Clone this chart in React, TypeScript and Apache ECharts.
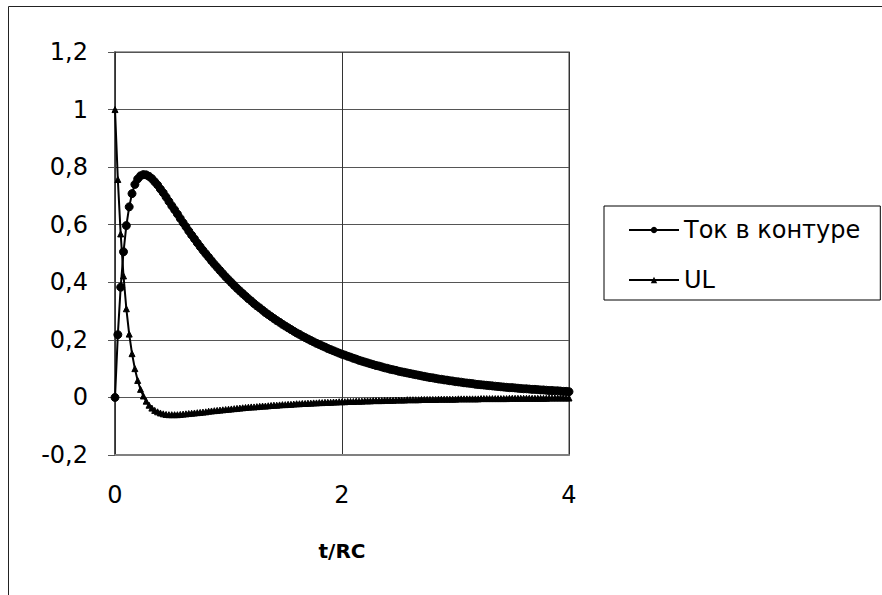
import React, { useEffect, useRef } from "react";
import * as echarts from "echarts";

// t/RC values (x)
const T_VALUES = [
  0, 0.025, 0.05, 0.075, 0.1, 0.125, 0.15, 0.175, 0.2, 0.225, 0.25, 0.275, 0.3, 0.325, 0.35, 0.375, 0.4, 0.425, 0.45, 0.475,
  0.5, 0.525, 0.55, 0.575, 0.6, 0.625, 0.65, 0.675, 0.7, 0.725, 0.75, 0.775, 0.8, 0.825, 0.85, 0.875, 0.9, 0.925, 0.95, 0.975,
  1, 1.025, 1.05, 1.075, 1.1, 1.125, 1.15, 1.175, 1.2, 1.225, 1.25, 1.275, 1.3, 1.325, 1.35, 1.375, 1.4, 1.425, 1.45, 1.475,
  1.5, 1.525, 1.55, 1.575, 1.6, 1.625, 1.65, 1.675, 1.7, 1.725, 1.75, 1.775, 1.8, 1.825, 1.85, 1.875, 1.9, 1.925, 1.95, 1.975,
  2, 2.025, 2.05, 2.075, 2.1, 2.125, 2.15, 2.175, 2.2, 2.225, 2.25, 2.275, 2.3, 2.325, 2.35, 2.375, 2.4, 2.425, 2.45, 2.475,
  2.5, 2.525, 2.55, 2.575, 2.6, 2.625, 2.65, 2.675, 2.7, 2.725, 2.75, 2.775, 2.8, 2.825, 2.85, 2.875, 2.9, 2.925, 2.95, 2.975,
  3, 3.025, 3.05, 3.075, 3.1, 3.125, 3.15, 3.175, 3.2, 3.225, 3.25, 3.275, 3.3, 3.325, 3.35, 3.375, 3.4, 3.425, 3.45, 3.475,
  3.5, 3.525, 3.55, 3.575, 3.6, 3.625, 3.65, 3.675, 3.7, 3.725, 3.75, 3.775, 3.8, 3.825, 3.85, 3.875, 3.9, 3.925, 3.95, 3.975,
  4,
];

// "Ток в контуре"
const CURRENT = [
  0, 0.218, 0.383, 0.506, 0.597, 0.662, 0.708, 0.740, 0.759, 0.770, 0.774, 0.773, 0.768, 0.760, 0.749, 0.738, 0.724, 0.711, 0.696, 0.681,
  0.666, 0.652, 0.637, 0.622, 0.607, 0.593, 0.578, 0.564, 0.551, 0.537, 0.524, 0.511, 0.499, 0.487, 0.475, 0.463, 0.452, 0.441, 0.430, 0.419,
  0.409, 0.399, 0.389, 0.379, 0.370, 0.361, 0.352, 0.343, 0.335, 0.326, 0.318, 0.311, 0.303, 0.295, 0.288, 0.281, 0.274, 0.267, 0.261, 0.254,
  0.248, 0.242, 0.236, 0.230, 0.224, 0.219, 0.213, 0.208, 0.203, 0.198, 0.193, 0.188, 0.184, 0.179, 0.175, 0.170, 0.166, 0.162, 0.158, 0.154,
  0.150, 0.147, 0.143, 0.140, 0.136, 0.133, 0.129, 0.126, 0.123, 0.120, 0.117, 0.114, 0.111, 0.109, 0.106, 0.103, 0.101, 0.098, 0.096, 0.094,
  0.091, 0.089, 0.087, 0.085, 0.083, 0.081, 0.079, 0.077, 0.075, 0.073, 0.071, 0.069, 0.068, 0.066, 0.064, 0.063, 0.061, 0.060, 0.058, 0.057,
  0.055, 0.054, 0.053, 0.051, 0.050, 0.049, 0.048, 0.046, 0.045, 0.044, 0.043, 0.042, 0.041, 0.040, 0.039, 0.038, 0.037, 0.036, 0.035, 0.034,
  0.034, 0.033, 0.032, 0.031, 0.030, 0.030, 0.029, 0.028, 0.028, 0.027, 0.026, 0.026, 0.025, 0.024, 0.024, 0.023, 0.023, 0.022, 0.021, 0.021,
  0.020,
];

// "UL"
const UL = [
  1, 0.757, 0.568, 0.422, 0.308, 0.220, 0.152, 0.100, 0.059, 0.028, 0.005, -0.013, -0.027, -0.037, -0.045, -0.050, -0.054, -0.057, -0.059, -0.060,
  -0.060, -0.060, -0.060, -0.059, -0.058, -0.057, -0.056, -0.055, -0.054, -0.053, -0.052, -0.051, -0.050, -0.048, -0.047, -0.046, -0.045, -0.044, -0.043, -0.042,
  -0.041, -0.040, -0.039, -0.038, -0.037, -0.036, -0.035, -0.034, -0.033, -0.033, -0.032, -0.031, -0.030, -0.030, -0.029, -0.028, -0.027, -0.027, -0.026, -0.025,
  -0.025, -0.024, -0.024, -0.023, -0.022, -0.022, -0.021, -0.021, -0.020, -0.020, -0.019, -0.019, -0.018, -0.018, -0.017, -0.017, -0.017, -0.016, -0.016, -0.015,
  -0.015, -0.015, -0.014, -0.014, -0.014, -0.013, -0.013, -0.013, -0.012, -0.012, -0.012, -0.011, -0.011, -0.011, -0.011, -0.010, -0.010, -0.010, -0.010, -0.009,
  -0.009, -0.009, -0.009, -0.008, -0.008, -0.008, -0.008, -0.008, -0.007, -0.007, -0.007, -0.007, -0.007, -0.007, -0.006, -0.006, -0.006, -0.006, -0.006, -0.006,
  -0.006, -0.005, -0.005, -0.005, -0.005, -0.005, -0.005, -0.005, -0.005, -0.004, -0.004, -0.004, -0.004, -0.004, -0.004, -0.004, -0.004, -0.004, -0.004, -0.003,
  -0.003, -0.003, -0.003, -0.003, -0.003, -0.003, -0.003, -0.003, -0.003, -0.003, -0.003, -0.003, -0.003, -0.002, -0.002, -0.002, -0.002, -0.002, -0.002, -0.002,
  -0.002,
];

const SERIES_NAMES = ["Ток в контуре", "UL"];
const X_AXIS_NAME = "t/RC";
const Y_MIN = -0.2;
const Y_MAX = 1.2;
const Y_STEP = 0.2;
const X_MIN = 0;
const X_MAX = 4;
const X_STEP = 2;

const FONT = "'DejaVu Sans', 'Liberation Sans', Arial, sans-serif";

function fmt(v: number): string {
  const r = Math.round(v * 10) / 10;
  return String(r).replace(".", ",");
}

export default function App() {
  const ref = useRef<HTMLDivElement>(null);

  useEffect(() => {
    if (!ref.current) return;
    const chart = echarts.init(ref.current, null, { renderer: "svg" });
    const currentData = T_VALUES.map((t, i) => [t, CURRENT[i]]);
    const ulData = T_VALUES.map((t, i) => [t, UL[i]]);

    chart.setOption({
      animation: false,
      backgroundColor: "#ffffff",
      textStyle: { fontFamily: FONT },
      graphic: [
        {
          type: "rect",
          shape: { x: 8.5, y: 6.5, width: 1000, height: 1000 },
          style: { fill: "none", stroke: "#222222", lineWidth: 1 },
          silent: true,
        },
      ],
      grid: {
        left: 115,
        top: 52,
        right: 313,
        bottom: 140,
        show: true,
        borderColor: "#808080",
        borderWidth: 1.5,
        backgroundColor: "transparent",
      },
      legend: {
        orient: "vertical",
        left: 604,
        top: 206,
        padding: [11, 20, 7, 24],
        itemWidth: 50,
        itemHeight: 8,
        itemGap: 24,
        borderColor: "#000000",
        borderWidth: 1,
        borderRadius: 0,
        backgroundColor: "#ffffff",
        textStyle: { fontFamily: FONT, fontSize: 24, color: "#000", lineHeight: 26 },
        data: SERIES_NAMES,
      },
      xAxis: {
        type: "value",
        min: X_MIN,
        max: X_MAX,
        interval: X_STEP,
        name: X_AXIS_NAME,
        nameLocation: "middle",
        nameGap: 86,
        nameTextStyle: { fontFamily: FONT, fontSize: 20, fontWeight: "bold", color: "#000" },
        axisLine: { show: true, onZero: false, lineStyle: { color: "#808080", width: 2 } },
        axisTick: { show: false },
        axisLabel: { fontFamily: FONT, fontSize: 24, color: "#000", margin: 28 },
        splitLine: { show: true, lineStyle: { color: "#333333", width: 1 } },
      },
      yAxis: {
        type: "value",
        min: Y_MIN,
        max: Y_MAX,
        interval: Y_STEP,
        axisLine: { show: true, onZero: false, lineStyle: { color: "#333333", width: 1.5 } },
        axisTick: { show: true, inside: false, length: 7, lineStyle: { color: "#555555" } },
        axisLabel: { fontFamily: FONT, fontSize: 24, color: "#000", margin: 27, formatter: (v: number) => fmt(v) },
        splitLine: { show: true, lineStyle: { color: "#555555", width: 1 } },
      },
      series: [
        {
          name: SERIES_NAMES[0],
          type: "line",
          data: currentData,
          symbol: "circle",
          symbolSize: 8,
          showAllSymbol: true,
          lineStyle: { color: "#000", width: 2 },
          itemStyle: { color: "#000", borderColor: "#000" },
        },
        {
          name: SERIES_NAMES[1],
          type: "line",
          data: ulData,
          symbol: "triangle",
          symbolSize: 6,
          showAllSymbol: true,
          lineStyle: { color: "#000", width: 2 },
          itemStyle: { color: "#000", borderColor: "#000" },
        },
      ],
    });

    return () => chart.dispose();
  }, []);

  return (
    <div
      ref={ref}
      style={{ position: "absolute", left: 0, top: 0, width: 882, height: 595, background: "#fff" }}
    />
  );
}
